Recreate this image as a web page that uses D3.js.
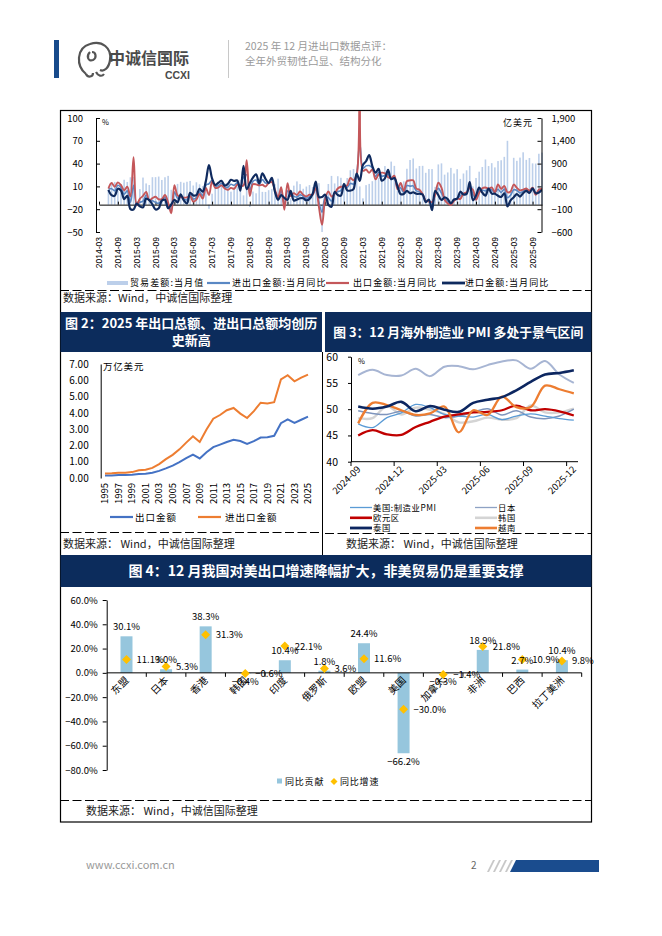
<!DOCTYPE html>
<html>
<head>
<meta charset="utf-8">
<script src="https://cdn.jsdelivr.net/npm/d3@7"></script>
<style>
body { margin: 0; background: #fff; }
svg text { font-family: "Noto Sans CJK SC", "DejaVu Sans", sans-serif; }
svg .num { font-family: "Liberation Sans", Arial, sans-serif; }
</style>
</head>
<body>
<svg id="page" width="662" height="936"></svg>
<script>
// ---------- data: chart 1 (monthly, 2014-03 .. 2025-12) ----------
const monthTicks = ["2014-03","2014-09","2015-03","2015-09","2016-03","2016-09","2017-03","2017-09",
  "2018-03","2018-09","2019-03","2019-09","2020-03","2020-09","2021-03","2021-09","2022-03","2022-09",
  "2023-03","2023-09","2024-03","2024-09","2025-03","2025-09"];
// trade balance, 亿美元
const tradeBalance = [null,null,null,315,473,498,310,454,546,497,
  600,607,30,341,594,465,430,602,603,616,541,601,
  631,326,298,455,500,481,502,520,420,490,446,407,
  513,-91,240,380,409,428,467,419,285,381,402,547,
  203,337,-50,287,249,416,280,279,317,340,448,570,
  391,41,326,138,417,510,450,348,397,429,387,467,
  470,-600,199,453,630,465,623,589,370,584,754,782,
  630,400,138,428,455,515,566,583,667,845,717,944,
  850,306,473,511,787,979,1013,794,847,851,698,780,
  780,390,882,905,658,706,806,683,778,565,683,753,
  850,400,585,723,826,990,846,910,817,956,974,1048,
  1400,300,1027,961,1032,1148,982,1023,905,901,1116,1142];
// total trade yoy, %
const totalYoy = [null,null,null,6.5,7.0,4.2,11.4,8.5,-0.3,4.1,
  -10.8,11.5,-14.0,-10.9,-9.4,-1.5,-8.2,-9.0,-11.0,-12.1,-7.7,-4.2,
  -14.5,-20.8,2.6,-5.6,-2.5,-6.4,-7.8,-0.8,-6.7,-4.8,2.8,-2.1,
  11.5,13.5,18.1,9.6,11.3,13.8,8.7,8.8,12.8,11.3,14.6,8.1,
  21.9,25.2,5.0,16.6,18.4,12.5,18.9,14.4,14.4,18.2,4.3,-5.8,
  4.0,-14.0,3.8,0.5,-3.1,-4.0,-0.9,-3.0,-5.5,-3.4,-0.5,11.2,
  -11.0,-24.0,-4.0,-4.9,-9.3,1.4,3.2,4.4,11.2,8.6,13.9,13.0,
  26.0,67.0,33.8,37.0,37.4,34.2,23.0,28.7,23.4,24.4,26.0,20.3,
  22.5,8.0,8.1,2.1,11.1,10.3,10.7,4.1,3.4,-0.4,-9.5,-8.9,
  -15.0,1.0,7.4,1.1,-6.2,-10.0,-13.6,-8.2,-6.2,-2.2,0.0,1.4,
  11.0,-0.5,-5.1,4.4,5.1,4.0,7.1,5.4,1.6,6.3,2.0,6.5,
  -5.0,-1.5,5.6,4.7,1.5,3.8,5.9,3.1,8.0,0.1,4.1,6.3];
// exports yoy, %
const exportYoy = [null,null,null,7.2,14.5,9.4,15.3,11.6,4.7,9.7,
  -3.3,48.3,-15.0,-6.4,-2.5,2.8,-8.3,-5.5,-3.7,-6.9,-6.8,-1.4,
  -11.2,-25.4,11.5,-1.8,-4.1,-4.8,-4.4,-2.8,-10.0,-7.3,0.1,-6.1,
  7.9,-1.3,16.4,8.0,8.7,11.3,7.2,5.5,8.1,6.9,12.3,10.9,
  11.1,44.5,-2.7,12.9,12.6,11.3,12.2,9.8,14.5,15.6,5.4,-4.4,
  9.1,-20.7,14.2,-2.7,1.1,-1.3,3.3,-1.0,-3.2,-0.9,-1.1,7.6,
  -17.2,-40.6,-6.6,3.5,-3.3,0.5,7.2,9.5,9.9,11.4,21.1,18.1,
  24.9,154.9,30.6,32.3,27.9,32.2,19.3,25.6,28.1,27.1,22.0,20.9,
  24.1,6.2,14.7,3.9,16.9,17.9,18.0,7.1,5.7,-0.3,-8.7,-9.9,
  -10.5,-1.3,14.8,8.5,-7.5,-12.4,-14.5,-8.8,-6.2,-6.4,0.5,2.3,
  8.0,5.6,-7.5,1.5,7.6,8.6,7.0,8.7,2.4,12.7,6.7,10.7,
  2.3,3.4,12.4,8.1,4.8,5.8,7.2,4.4,8.3,-1.1,5.9,6.6];
// imports yoy, %
const importYoy = [null,null,null,5.5,-1.6,-2.4,7.0,4.6,-6.7,-2.4,
  -19.9,-20.5,-12.7,-16.2,-17.6,-6.1,-8.1,-13.8,-20.4,-18.8,-8.7,-7.6,
  -18.8,-13.8,-7.6,-10.9,-0.4,-8.4,-12.5,1.5,-1.9,-1.4,6.7,3.1,
  16.7,38.1,20.3,11.9,14.8,17.2,11.0,13.3,18.7,17.2,17.7,4.5,
  36.9,6.3,14.4,21.5,26.0,14.1,27.3,20.0,14.3,21.4,3.0,-7.6,
  -1.5,-5.2,-7.6,4.0,-8.5,-7.3,-5.6,-5.6,-8.5,-6.4,0.3,16.3,
  -4.0,-4.0,-0.9,-14.2,-16.7,2.7,-1.4,-2.1,13.2,4.7,4.5,6.5,
  27.0,17.3,38.1,43.1,51.1,36.7,28.1,33.1,17.6,20.6,31.7,19.5,
  20.9,10.4,-0.1,0.0,4.1,1.0,2.3,0.3,0.3,-0.7,-10.6,-7.5,
  -21.3,4.2,-1.4,-7.9,-4.5,-6.8,-12.4,-7.3,-6.2,3.0,-0.6,0.2,
  15.5,-8.2,-1.9,8.4,1.8,-2.3,7.2,0.5,0.3,-2.3,-3.9,1.0,
  -16.3,-8.4,-4.3,-0.2,-3.4,1.1,4.1,1.3,7.4,1.0,1.9,5.7];
const leftTicks = [-50,-20,10,40,70,100];
const rightTicks = [-600,-100,400,900,1400,1900];

// ---------- data: chart 2 (annual, 万亿美元) ----------
const years = d3.range(1995, 2026);
const exportTotal = [0.149,0.151,0.183,0.184,0.195,0.249,0.266,0.326,0.438,0.593,0.762,0.969,1.220,1.431,1.202,
  1.578,1.898,2.049,2.209,2.342,2.273,2.098,2.263,2.487,2.499,2.590,3.362,3.594,3.380,3.577,3.770];
const tradeTotal = [0.281,0.290,0.325,0.324,0.361,0.474,0.510,0.621,0.851,1.155,1.422,1.760,2.174,2.563,2.207,
  2.974,3.642,3.867,4.159,4.302,3.953,3.685,4.107,4.622,4.578,4.656,6.051,6.310,5.936,6.163,6.350];
const yearTicks = d3.range(1995, 2026, 2);

// ---------- data: chart 3 (PMI) ----------
const pmiMonths = ["2024-09","2024-10","2024-11","2024-12","2025-01","2025-02","2025-03","2025-04",
  "2025-05","2025-06","2025-07","2025-08","2025-09","2025-10","2025-11","2025-12"];
const pmiTicks = ["2024-09","2024-12","2025-03","2025-06","2025-09","2025-12"];
const pmiTop   = [56.5,57.5,56.5,56.4,57.7,56.3,58.1,58.2,57.6,58.4,59.1,59.3,57.7,59.2,56.6,55.0];
const pmiUS    = [47.2,46.5,48.4,49.3,50.9,50.3,49.0,48.7,48.5,49.0,48.0,48.7,49.1,48.7,48.2,47.9];
const pmiJapan = [49.7,49.2,49.0,49.6,48.7,49.0,48.4,48.7,49.4,50.1,48.9,49.7,48.5,48.2,48.7,50.0];
const pmiKorea = [48.3,48.3,50.6,49.0,50.3,49.9,49.1,47.5,47.7,48.4,48.0,48.3,50.7,49.4,49.4,50.1];
const pmiEuro  = [45.0,46.0,45.2,45.1,46.6,47.6,48.6,49.0,49.4,49.5,49.8,50.7,49.8,50.0,49.6,48.8];
const pmiThai  = [50.5,50.1,50.5,51.4,49.6,50.6,49.9,49.5,51.2,51.8,52.3,53.6,55.2,56.6,56.9,57.4];
const pmiViet  = [47.3,51.2,50.8,49.8,48.9,49.2,50.5,45.6,49.8,48.9,52.4,50.4,50.4,54.5,53.8,53.0];

// ---------- data: chart 4 ----------
const regions = ["东盟","日本","香港","韩国","印度","俄罗斯","欧盟","美国","加拿大","非洲","巴西","拉丁美洲"];
const contribution = [30.1,3.0,38.3,-0.4,10.4,1.8,24.4,-66.2,-0.3,18.9,2.7,10.4];
const growth = [11.1,5.3,31.3,-0.6,22.1,3.6,11.6,-30.0,-1.4,21.8,10.9,9.8];
const pctTicks = [-80,-60,-40,-20,0,20,40,60];

const svg = d3.select("#page");
const navy = "#0c2c5c";

// ---------- header ----------
svg.append("rect").attr("x", 54).attr("y", 40).attr("width", 5).attr("height", 38).attr("fill", "#174a8b");
svg.append("path")
  .attr("d", "M86 74 C76 66 76 48 90 44 C102 40 112 48 110 60 C109 68 104 72 100 70 M90 52 C86 56 88 62 93 60 C97 58 96 52 92 52 M96 72 C98 76 102 77 104 74 M86 74 C88 78 93 77 93 73")
  .attr("fill", "none").attr("stroke", "#555").attr("stroke-width", 2.2);
svg.append("text").attr("x", 109).attr("y", 64).attr("font-size", 16).attr("font-weight", "bold")
  .attr("fill", "#4a4a4a").text("中诚信国际");
svg.append("text").attr("class", "num").attr("x", 190).attr("y", 79).attr("text-anchor", "end")
  .attr("font-size", 10.5).attr("font-weight", "bold").attr("fill", "#4a4a4a").text("CCXI");
svg.append("line").attr("x1", 228.5).attr("x2", 228.5).attr("y1", 40).attr("y2", 78).attr("stroke", "#c8c8c8");
svg.append("text").attr("x", 245).attr("y", 50).attr("font-size", 10.5).attr("fill", "#9a9a9a").text("2025 年 12 月进出口数据点评：");
svg.append("text").attr("x", 245).attr("y", 65).attr("font-size", 10.5).attr("fill", "#9a9a9a").text("全年外贸韧性凸显、结构分化");

// ---------- frame ----------
svg.append("rect").attr("x", 60.5).attr("y", 110.5).attr("width", 531).attr("height", 711.5)
  .attr("fill", "none").attr("stroke", "#000").attr("stroke-width", 1.2);
function dashed(x1, x2, y) {
  svg.append("line").attr("x1", x1).attr("x2", x2).attr("y1", y).attr("y2", y)
    .attr("stroke", "#000").attr("stroke-width", 1).attr("stroke-dasharray", "9,3.5");
}
function source(x, y, t) {
  svg.append("text").attr("x", x).attr("y", y).attr("font-size", 11).attr("fill", "#222").text(t);
}
function titleBar(x, y, w, h, lines, fs) {
  svg.append("rect").attr("x", x).attr("y", y).attr("width", w).attr("height", h).attr("fill", navy);
  const n = lines.length;
  lines.forEach((t, i) => {
    svg.append("text").attr("x", x + w / 2).attr("y", y + h / 2 + (i - (n - 1) / 2) * 17 + fs * 0.36)
      .attr("text-anchor", "middle").attr("font-size", fs).attr("font-weight", "bold")
      .attr("fill", "#fff").text(t);
  });
}

// ---------- chart 1 ----------
const months = d3.timeMonth.range(new Date(2014, 2, 1), new Date(2026, 0, 1)).map(d3.timeFormat("%Y-%m"));
const x1 = d3.scalePoint().domain(months).range([99, 542]);
const yL = d3.scaleLinear().domain([-50, 100]).range([232, 118]);
const yR = d3.scaleLinear().domain([-600, 1900]).range([232, 118]);
const c1 = svg.append("g");

c1.append("clipPath").attr("id", "clip1").append("rect").attr("x", 96).attr("y", 111).attr("width", 446).attr("height", 130);

c1.append("g").selectAll("rect")
  .data(months.map((m, i) => ({ m, v: tradeBalance[i] })).filter(d => d.v != null))
  .join("rect")
  .attr("x", d => x1(d.m) - 0.8).attr("width", 1.6)
  .attr("y", d => yR(Math.max(0, d.v))).attr("height", d => Math.abs(yR(d.v) - yR(0)))
  .attr("fill", "#bccfea");

c1.append("g").attr("transform", `translate(0,${yR(0)})`)
  .call(d3.axisBottom(x1).tickValues(monthTicks).tickSize(-3).tickSizeOuter(0).tickFormat(""))
  .call(g => g.select(".domain").attr("stroke", "#000"));

const line1 = d3.line().defined(d => d.v != null).x(d => x1(d.m)).y(d => yL(d.v)).curve(d3.curveCatmullRom.alpha(0.5));
[[totalYoy, "#5a88c4", 1.6], [exportYoy, "#c4575a", 1.9], [importYoy, "#0f2a5e", 2.2]].forEach(([arr, col, w]) => {
  c1.append("path").attr("clip-path", "url(#clip1)")
    .attr("d", line1(months.map((m, i) => ({ m, v: arr[i] }))))
    .attr("fill", "none").attr("stroke", col).attr("stroke-width", w);
});

c1.append("g").attr("class", "num").attr("transform", "translate(96,0)")
  .call(d3.axisLeft(yL).tickValues(leftTicks).tickSize(-4).tickSizeOuter(0).tickPadding(13))
  .call(g => g.selectAll("text").attr("font-size", 9.5).attr("font-family", "Liberation Sans, Arial"));
c1.append("g").attr("class", "num").attr("transform", "translate(541.5,0)")
  .call(d3.axisRight(yR).tickValues(rightTicks).tickSize(-4).tickSizeOuter(0).tickPadding(10).tickFormat(d3.format(",")))
  .call(g => g.selectAll("text").attr("font-size", 9.5).attr("font-family", "Liberation Sans, Arial"));

c1.append("g").selectAll("text").data(monthTicks).join("text")
  .attr("class", "num").attr("font-size", 8.5).attr("text-anchor", "end").attr("dy", "0.35em")
  .attr("transform", d => `translate(${x1(d)},237) rotate(-90)`).text(d => d);

c1.append("text").attr("x", 102).attr("y", 125).attr("font-size", 7.5).text("%");
c1.append("text").attr("x", 503).attr("y", 126).attr("font-size", 9).attr("letter-spacing", 1).text("亿美元");

// legend 1
const leg1 = c1.append("g").attr("font-size", 9).attr("letter-spacing", 1.1);
leg1.append("rect").attr("x", 107).attr("y", 281).attr("width", 21).attr("height", 4).attr("fill", "#bccfea");
leg1.append("text").attr("x", 130).attr("y", 286).text("贸易差额:当月值");
[[207, 232, "#5a88c4", 2.2, "进出口金额:当月同比"], [326, 353, "#c4575a", 2.2, "出口金额:当月同比"], [442, 465, "#0f2a5e", 2.8, "进口金额:当月同比"]]
  .forEach(([lx, tx, col, w, t]) => {
    leg1.append("line").attr("x1", lx).attr("x2", lx + 23).attr("y1", 283).attr("y2", 283).attr("stroke", col).attr("stroke-width", w);
    leg1.append("text").attr("x", tx).attr("y", 286).text(t);
  });
dashed(60, 591, 290.5);
source(63, 302, "数据来源：Wind，中诚信国际整理");

// ---------- titles for 2 and 3 ----------
titleBar(60.5, 312, 261.5, 40, ["图 2：2025 年出口总额、进出口总额均创历", "史新高"], 13);
titleBar(325, 312, 266.5, 40, ["图 3：12 月海外制造业 PMI 多处于景气区间"], 12.8);
svg.append("line").attr("x1", 322.5).attr("x2", 322.5).attr("y1", 352).attr("y2", 555).attr("stroke", "#000");

// ---------- chart 2 ----------
const x2 = d3.scalePoint().domain(years).range([105, 308]);
const y2 = d3.scaleLinear().domain([0, 7]).range([478, 364]);
const c2 = svg.append("g");
c2.append("g").attr("transform", "translate(100.7,0)")
  .call(d3.axisLeft(y2).ticks(7).tickSize(0).tickPadding(12).tickFormat(d3.format(".2f")))
  .call(g => g.selectAll("text").attr("font-size", 10).attr("font-family", "Liberation Sans, Arial"));
const line2 = d3.line().x((d, i) => x2(years[i])).y(d => y2(d));
c2.append("path").attr("d", line2(exportTotal)).attr("fill", "none").attr("stroke", "#4472c4").attr("stroke-width", 2);
c2.append("path").attr("d", line2(tradeTotal)).attr("fill", "none").attr("stroke", "#ed7d31").attr("stroke-width", 2);
c2.append("g").selectAll("text").data(yearTicks).join("text")
  .attr("font-size", 9.5).attr("font-family", "Liberation Sans, Arial").attr("text-anchor", "end").attr("dy", "0.35em")
  .attr("transform", d => `translate(${x2(d)},483) rotate(-90)`).text(d => d);
c2.append("text").attr("x", 103).attr("y", 370).attr("font-size", 9.5).attr("letter-spacing", 0.8).text("万亿美元");
[[110, 135, "#4472c4", "出口金额"], [198, 225, "#ed7d31", "进出口金额"]].forEach(([lx, tx, col, t]) => {
  c2.append("line").attr("x1", lx).attr("x2", lx + 23).attr("y1", 517).attr("y2", 517).attr("stroke", col).attr("stroke-width", 2.2);
  c2.append("text").attr("x", tx).attr("y", 520.5).attr("font-size", 9.5).attr("letter-spacing", 1).text(t);
});
dashed(60, 322, 532.5);
source(63, 548, "数据来源： Wind，中诚信国际整理");

// ---------- chart 3 ----------
const x3 = d3.scaleBand().domain(pmiMonths).range([351, 581]);
const y3 = d3.scaleLinear().domain([40, 60]).range([461.7, 356.7]);
const c3 = svg.append("g");
c3.append("g").attr("transform", "translate(351,0)")
  .call(d3.axisLeft(y3).tickValues([40, 45, 50, 55, 60]).tickSize(3).tickSizeOuter(0).tickPadding(10))
  .call(g => g.selectAll("text").attr("font-size", 10.5).attr("font-family", "Liberation Sans, Arial"));
c3.append("line").attr("x1", 351).attr("x2", 578).attr("y1", 461.7).attr("y2", 461.7).attr("stroke", "#000");
c3.append("g").selectAll("line").data(pmiTicks).join("line")
  .attr("x1", d => x3(d)).attr("x2", d => x3(d)).attr("y1", 461.7).attr("y2", 466).attr("stroke", "#000");
c3.append("g").selectAll("text").data(pmiTicks).join("text")
  .attr("font-size", 9.5).attr("font-family", "Liberation Sans, Arial").attr("text-anchor", "end")
  .attr("transform", d => `translate(${x3(d) + x3.bandwidth() / 2 + 3},470) rotate(-45)`).text(d => d);
c3.append("text").attr("x", 358).attr("y", 364).attr("font-size", 7.5).text("%");
const line3 = d3.line().x((d, i) => x3(pmiMonths[i]) + x3.bandwidth() / 2).y(d => y3(d)).curve(d3.curveCatmullRom.alpha(0.5));
[[pmiKorea, "#d4d4d4", 2.4], [pmiJapan, "#7e95bd", 1.5], [pmiUS, "#5b9bd5", 1.3], [pmiTop, "#a7b5d3", 2],
 [pmiEuro, "#c00000", 2.3], [pmiViet, "#ed7d31", 2.3], [pmiThai, "#0c2660", 2.6]].forEach(([arr, col, w]) => {
  c3.append("path").attr("d", line3(arr)).attr("fill", "none").attr("stroke", col).attr("stroke-width", w);
});
const leg3 = c3.append("g").attr("font-size", 8.3).attr("letter-spacing", 0.6);
[[350, 507.5, "#5b9bd5", 1.3, "美国:制造业PMI"], [475, 507.5, "#8ea2c4", 1.3, "日本"],
 [350, 517.8, "#c00000", 2.6, "欧元区"], [475, 517.8, "#d4d4d4", 2.6, "韩国"],
 [350, 528, "#0c2660", 2.8, "泰国"], [475, 528, "#ed7d31", 2.6, "越南"]].forEach(([lx, ly, col, w, t]) => {
  leg3.append("line").attr("x1", lx).attr("x2", lx + 22).attr("y1", ly).attr("y2", ly).attr("stroke", col).attr("stroke-width", w);
  leg3.append("text").attr("x", lx + 23).attr("y", ly + 3).text(t);
});
dashed(325, 591, 533.5);
source(346, 548, "数据来源： Wind，中诚信国际整理");

// ---------- chart 4 ----------
titleBar(60.5, 555, 531, 32, ["图 4：12 月我国对美出口增速降幅扩大，非美贸易仍是重要支撑"], 14);
const x4 = d3.scaleBand().domain(regions).range([106.7, 581.7]);
const y4 = d3.scaleLinear().domain([-80, 60]).range([770, 600]);
const c4 = svg.append("g");
c4.append("g").attr("transform", "translate(106.7,0)")
  .call(d3.axisLeft(y4).tickValues(pctTicks).tickSize(4).tickSizeOuter(0).tickPadding(5).tickFormat(d => d3.format(".1f")(d) + "%"))
  .call(g => g.selectAll("text").attr("font-size", 9.5).attr("font-family", "Liberation Sans, Arial"));
const cx = r => x4(r) + x4.bandwidth() / 2;
c4.append("g").selectAll("rect").data(regions).join("rect")
  .attr("x", d => cx(d) - 6).attr("width", 12)
  .attr("y", (d, i) => y4(Math.max(0, contribution[i])))
  .attr("height", (d, i) => Math.abs(y4(contribution[i]) - y4(0)))
  .attr("fill", "#96c6dd");
c4.append("line").attr("x1", 106.7).attr("x2", 581.7).attr("y1", y4(0)).attr("y2", y4(0)).attr("stroke", "#000");
c4.append("g").selectAll("line").data(regions.slice(1).concat(["end"])).join("line")
  .attr("x1", d => d === "end" ? 581.7 : x4(d)).attr("x2", d => d === "end" ? 581.7 : x4(d))
  .attr("y1", y4(0)).attr("y2", y4(0) + 4).attr("stroke", "#000");
c4.append("g").selectAll("path").data(regions).join("path")
  .attr("d", (d, i) => { const x = cx(d), y = y4(growth[i]); return `M${x},${y - 4.5}L${x + 4.5},${y}L${x},${y + 4.5}L${x - 4.5},${y}Z`; })
  .attr("fill", "#ffc000");
c4.append("g").selectAll("text").data(regions).join("text")
  .attr("font-size", 10).attr("text-anchor", "end")
  .attr("transform", d => `translate(${cx(d) + 3},681) rotate(-45)`).text(d => d);
c4.append("g").selectAll("text").data(regions).join("text")
  .attr("font-size", 9.5).attr("font-family", "Liberation Sans, Arial").attr("text-anchor", "middle")
  .attr("x", d => cx(d))
  .attr("y", (d, i) => contribution[i] >= 0 ? y4(contribution[i]) - 6 : y4(contribution[i]) + 12)
  .text((d, i) => d3.format(".1f")(contribution[i]) + "%");
c4.append("g").selectAll("text").data(regions).join("text")
  .attr("font-size", 9.5).attr("font-family", "Liberation Sans, Arial")
  .attr("x", d => cx(d) + 10).attr("y", (d, i) => y4(growth[i]) + 3.5)
  .text((d, i) => d3.format(".1f")(growth[i]) + "%");
c4.append("rect").attr("x", 277).attr("y", 778.5).attr("width", 5).attr("height", 5).attr("fill", "#96c6dd");
c4.append("text").attr("x", 285).attr("y", 785).attr("font-size", 9).attr("letter-spacing", 0.8).text("同比贡献");
c4.append("path").attr("d", "M334,778L337.5,781.5L334,785L330.5,781.5Z").attr("fill", "#ffc000");
c4.append("text").attr("x", 340).attr("y", 785).attr("font-size", 9).attr("letter-spacing", 0.8).text("同比增速");
dashed(60, 591, 800.5);
source(86, 815, "数据来源： Wind，中诚信国际整理");

// ---------- footer ----------
svg.append("text").attr("x", 86).attr("y", 869).attr("font-size", 11).attr("font-family", "Liberation Serif, serif")
  .attr("fill", "#999").text("www.ccxi.com.cn");
svg.append("text").attr("x", 471).attr("y", 869).attr("font-size", 10).attr("font-family", "Liberation Serif, serif")
  .attr("fill", "#666").text("2");
[487, 493, 499, 505].forEach(x => {
  svg.append("path").attr("d", `M${x},872L${x + 6},860L${x + 8},860L${x + 2},872Z`).attr("fill", "#c8c8c8");
});
svg.append("path").attr("d", "M510,872L516,860L599,860L599,872Z").attr("fill", "#1a4c8e");
</script>
</body>
</html>
